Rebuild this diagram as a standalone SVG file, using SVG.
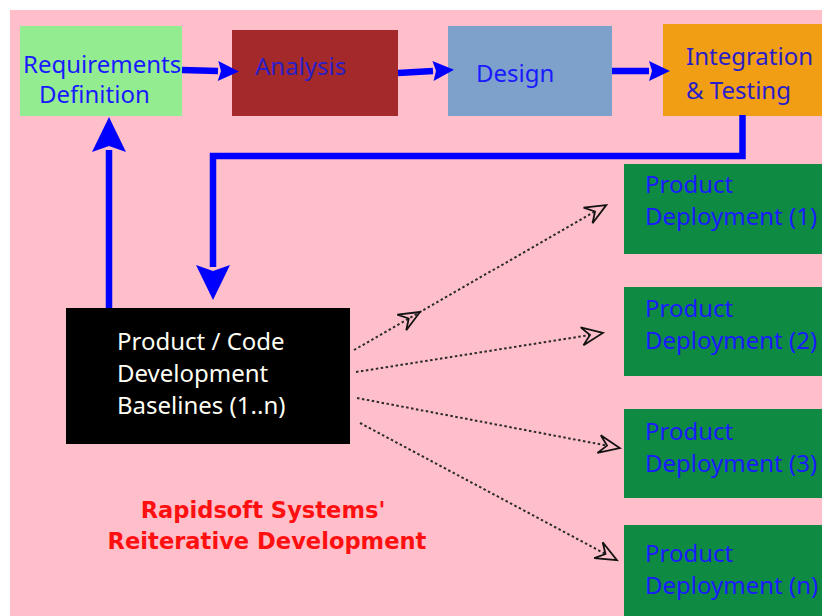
<svg xmlns="http://www.w3.org/2000/svg" width="822" height="616" viewBox="0 0 822 616">
  <style>
    .t { font-family: "Noto Sans", "DejaVu Sans", sans-serif; font-size: 24px; }
    .blue { fill: #1a1aff; }
    .dblue { fill: #2a1ec8; }
    .white { fill: #fffff4; }
    .red { fill: #ff1010; font-weight: bold; font-family: "DejaVu Sans", "Liberation Sans", sans-serif; font-size: 22.6px; }
    .thick { fill: none; stroke: #0000ff; stroke-width: 6.5; stroke-linejoin: miter; }
    .dot { fill: none; stroke: #2a2a2a; stroke-width: 2; stroke-dasharray: 2.5 2.5; }
  </style>
  <defs>
    <marker id="ah" markerUnits="userSpaceOnUse" orient="auto" refX="0" refY="0" markerWidth="30" markerHeight="30" viewBox="-5 -15 30 30" overflow="visible">
      <path d="M0,-10 L21,0 L0,10 L3,0 Z" fill="#0000ff"/>
    </marker>
    <marker id="ahBig" markerUnits="userSpaceOnUse" orient="auto" refX="0" refY="0" markerWidth="50" markerHeight="50" viewBox="-5 -25 50 50" overflow="visible">
      <path d="M-2,-17 L33,0 L-2,17 L4,0 Z" fill="#0000ff"/>
    </marker>
    <marker id="open" markerUnits="userSpaceOnUse" orient="auto" refX="-13" refY="0" markerWidth="30" markerHeight="30" viewBox="-25 -15 30 30" overflow="visible">
      <path d="M-21,-9 L0,0 L-21,9 L-13,0 Z" fill="none" stroke="#111" stroke-width="1.8" stroke-linejoin="miter"/>
    </marker>
    <marker id="openMid" markerUnits="userSpaceOnUse" orient="auto" refX="0" refY="0" markerWidth="30" markerHeight="30" viewBox="-25 -15 30 30" overflow="visible">
      <path d="M-21,-9 L0,0 L-21,9 L-13,0 Z" fill="none" stroke="#111" stroke-width="1.8" stroke-linejoin="miter"/>
    </marker>
  </defs>

  <rect x="0" y="0" width="822" height="616" fill="#ffffff"/>
  <rect x="10" y="10" width="812" height="606" fill="#ffbfca"/>

  <g id="requirements">
    <rect x="20" y="26" width="162" height="90" fill="#93ec8f"/>
    <text class="t blue" x="23" y="73">Requirements</text>
    <text class="t blue" x="39" y="103">Definition</text>
  </g>
  <g id="analysis">
    <rect x="232" y="30" width="166" height="86" fill="#a4292a"/>
    <text class="t dblue" x="255" y="75" font-size="23">Analysis</text>
  </g>
  <g id="design">
    <rect x="448" y="26" width="164" height="90" fill="#7ea1cc"/>
    <text class="t blue" x="476" y="82" font-size="23">Design</text>
  </g>
  <g id="integration">
    <rect x="663" y="24" width="159" height="92" fill="#f29e14"/>
    <text class="t dblue" x="686" y="65">Integration</text>
    <text class="t dblue" x="686" y="99">&amp; Testing</text>
  </g>
  <g id="baselines">
    <rect x="66" y="308" width="284" height="136" fill="#000000"/>
    <text class="t white" x="117" y="350">Product / Code</text>
    <text class="t white" x="117" y="382">Development</text>
    <text class="t white" x="117" y="414">Baselines (1..n)</text>
  </g>
  <g id="deploy1">
    <rect x="624" y="164" width="198" height="90" fill="#0f8a43"/>
    <text class="t blue" x="645" y="193">Product</text>
    <text class="t blue" x="645" y="225">Deployment (1)</text>
  </g>
  <g id="deploy2">
    <rect x="624" y="287" width="198" height="89" fill="#0f8a43"/>
    <text class="t blue" x="645" y="317">Product</text>
    <text class="t blue" x="645" y="349">Deployment (2)</text>
  </g>
  <g id="deploy3">
    <rect x="624" y="409" width="198" height="89" fill="#0f8a43"/>
    <text class="t blue" x="645" y="440">Product</text>
    <text class="t blue" x="645" y="472">Deployment (3)</text>
  </g>
  <g id="deployN">
    <rect x="624" y="525" width="198" height="91" fill="#0f8a43"/>
    <text class="t blue" x="645" y="562">Product</text>
    <text class="t blue" x="645" y="594">Deployment (n)</text>
  </g>
  <g id="title">
    <text class="red" x="263" y="518" text-anchor="middle">Rapidsoft Systems'</text>
    <text class="red" x="267" y="549" text-anchor="middle">Reiterative Development</text>
  </g>

  <g id="connectors">
    <path class="thick" d="M182,70 L218,71" marker-end="url(#ah)"/>
    <path class="thick" d="M398,73 L433,71" marker-end="url(#ah)"/>
    <path class="thick" d="M612,71 L649,71" marker-end="url(#ah)"/>
    <path class="thick" d="M742.5,115 L742.5,156 L213,156 L213,267" marker-end="url(#ahBig)"/>
    <path class="thick" d="M109,308 L109,150" marker-end="url(#ahBig)"/>
    <path class="dot" d="M354,350 L420,312 L595,211.5" marker-mid="url(#openMid)" marker-end="url(#open)"/>
    <path class="dot" d="M356,372 L590,335" marker-end="url(#open)"/>
    <path class="dot" d="M357,398 L607,445.6" marker-end="url(#open)"/>
    <path class="dot" d="M360,423 L605.5,554" marker-end="url(#open)"/>
  </g>
</svg>
